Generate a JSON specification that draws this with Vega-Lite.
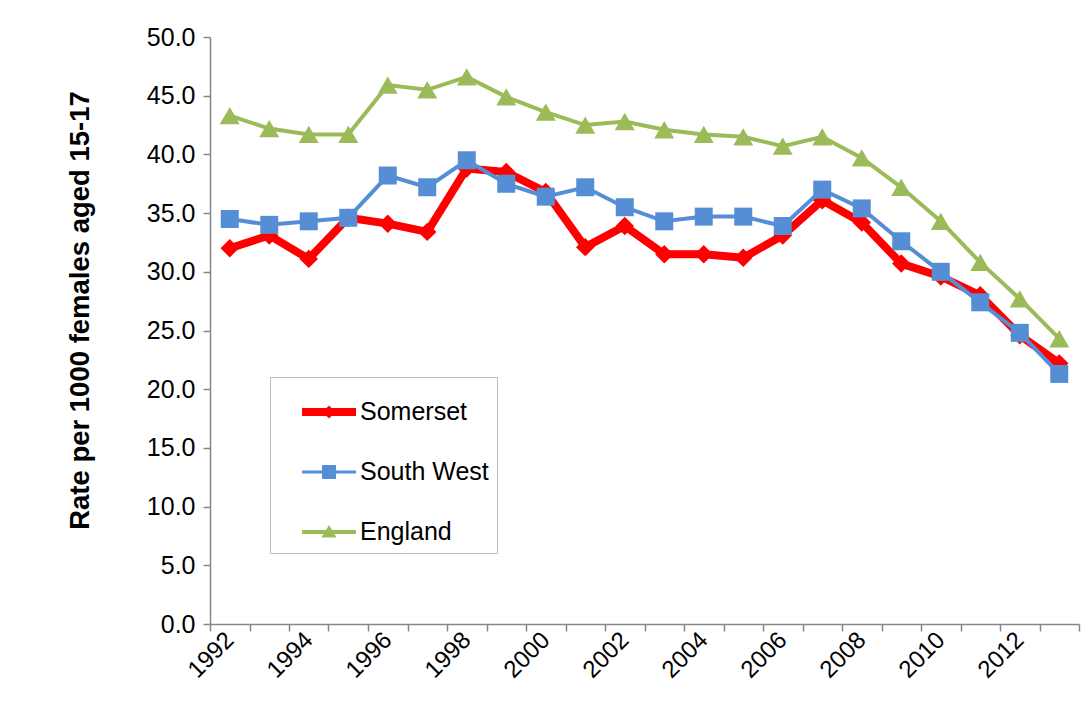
{
  "$schema": "https://vega.github.io/schema/vega-lite/v6.json",
  "width": 869,
  "height": 587,
  "autosize": {"type": "none"},
  "padding": {"left": 210, "top": 37, "right": 10, "bottom": 95},
  "background": "white",
  "config": {"view": {"stroke": null}, "font": "Liberation Sans", "axis": {"grid": false}},
  "data": {"values": [
    {"year": 1992, "series": "Somerset", "value": 32.0},
    {"year": 1993, "series": "Somerset", "value": 33.1},
    {"year": 1994, "series": "Somerset", "value": 31.1},
    {"year": 1995, "series": "Somerset", "value": 34.6},
    {"year": 1996, "series": "Somerset", "value": 34.1},
    {"year": 1997, "series": "Somerset", "value": 33.4},
    {"year": 1998, "series": "Somerset", "value": 38.8},
    {"year": 1999, "series": "Somerset", "value": 38.5},
    {"year": 2000, "series": "Somerset", "value": 36.8},
    {"year": 2001, "series": "Somerset", "value": 32.1},
    {"year": 2002, "series": "Somerset", "value": 33.9},
    {"year": 2003, "series": "Somerset", "value": 31.5},
    {"year": 2004, "series": "Somerset", "value": 31.5},
    {"year": 2005, "series": "Somerset", "value": 31.2},
    {"year": 2006, "series": "Somerset", "value": 33.1},
    {"year": 2007, "series": "Somerset", "value": 36.1},
    {"year": 2008, "series": "Somerset", "value": 34.2},
    {"year": 2009, "series": "Somerset", "value": 30.7},
    {"year": 2010, "series": "Somerset", "value": 29.6},
    {"year": 2011, "series": "Somerset", "value": 28.0},
    {"year": 2012, "series": "Somerset", "value": 24.6},
    {"year": 2013, "series": "Somerset", "value": 22.2},
    {"year": 1992, "series": "South West", "value": 34.5},
    {"year": 1993, "series": "South West", "value": 34.0},
    {"year": 1994, "series": "South West", "value": 34.3},
    {"year": 1995, "series": "South West", "value": 34.6},
    {"year": 1996, "series": "South West", "value": 38.2},
    {"year": 1997, "series": "South West", "value": 37.2},
    {"year": 1998, "series": "South West", "value": 39.5},
    {"year": 1999, "series": "South West", "value": 37.5},
    {"year": 2000, "series": "South West", "value": 36.4},
    {"year": 2001, "series": "South West", "value": 37.2},
    {"year": 2002, "series": "South West", "value": 35.5},
    {"year": 2003, "series": "South West", "value": 34.3},
    {"year": 2004, "series": "South West", "value": 34.7},
    {"year": 2005, "series": "South West", "value": 34.7},
    {"year": 2006, "series": "South West", "value": 33.9},
    {"year": 2007, "series": "South West", "value": 37.0},
    {"year": 2008, "series": "South West", "value": 35.4},
    {"year": 2009, "series": "South West", "value": 32.6},
    {"year": 2010, "series": "South West", "value": 30.0},
    {"year": 2011, "series": "South West", "value": 27.4},
    {"year": 2012, "series": "South West", "value": 24.8},
    {"year": 2013, "series": "South West", "value": 21.3},
    {"year": 1992, "series": "England", "value": 43.3},
    {"year": 1993, "series": "England", "value": 42.2},
    {"year": 1994, "series": "England", "value": 41.7},
    {"year": 1995, "series": "England", "value": 41.7},
    {"year": 1996, "series": "England", "value": 45.9},
    {"year": 1997, "series": "England", "value": 45.5},
    {"year": 1998, "series": "England", "value": 46.6},
    {"year": 1999, "series": "England", "value": 44.9},
    {"year": 2000, "series": "England", "value": 43.6},
    {"year": 2001, "series": "England", "value": 42.5},
    {"year": 2002, "series": "England", "value": 42.8},
    {"year": 2003, "series": "England", "value": 42.1},
    {"year": 2004, "series": "England", "value": 41.7},
    {"year": 2005, "series": "England", "value": 41.5},
    {"year": 2006, "series": "England", "value": 40.7},
    {"year": 2007, "series": "England", "value": 41.5},
    {"year": 2008, "series": "England", "value": 39.7},
    {"year": 2009, "series": "England", "value": 37.2},
    {"year": 2010, "series": "England", "value": 34.3},
    {"year": 2011, "series": "England", "value": 30.8},
    {"year": 2012, "series": "England", "value": 27.7},
    {"year": 2013, "series": "England", "value": 24.3}
  ]},
  "encoding": {
    "x": {"field": "year", "type": "quantitative", "scale": {"domain": [1991.5, 2013.5], "nice": false, "zero": false}, "axis": null},
    "y": {"field": "value", "type": "quantitative", "scale": {"domain": [0, 50], "nice": false, "zero": true}, "axis": {"values": [0, 5, 10, 15, 20, 25, 30, 35, 40, 45, 50], "format": ".1f", "tickSize": 7, "tickColor": "#868686", "domainColor": "#868686", "domainWidth": 1.5, "tickWidth": 1.5, "labelFontSize": 25, "labelColor": "#000000", "labelPadding": 8, "labelFont": "Liberation Sans", "title": "Rate per 1000 females aged 15-17", "titleFont": "Liberation Sans", "titleFontSize": 27.5, "titleFontWeight": "bold", "titleColor": "#000000", "titlePadding": 52, "titleY": 273}},
    "color": {"field": "series", "type": "nominal", "scale": {"domain": ["Somerset", "South West", "England"], "range": ["#FF0000", "#558ED5", "#9BBB59"]}, "legend": null}
  },
  "layer": [
    {
      "transform": [{"filter": "datum.series === 'Somerset'"}],
      "mark": {"type": "line", "strokeWidth": 8, "strokeJoin": "round", "strokeCap": "round"},
      "encoding": {
        "x": {"field": "year", "type": "quantitative", "axis": {"orient": "bottom", "values": [1991.5, 1992.5, 1993.5, 1994.5, 1995.5, 1996.5, 1997.5, 1998.5, 1999.5, 2000.5, 2001.5, 2002.5, 2003.5, 2004.5, 2005.5, 2006.5, 2007.5, 2008.5, 2009.5, 2010.5, 2011.5, 2012.5, 2013.5], "labels": false, "ticks": true, "tickSize": 7, "tickColor": "#868686", "domainColor": "#868686", "domainWidth": 1.5, "tickWidth": 1.5, "title": null}}
      }
    },
    {
      "transform": [{"filter": "datum.series === 'Somerset'"}],
      "mark": {"type": "point", "filled": true, "opacity": 1, "shape": "diamond", "size": 340}
    },
    {
      "transform": [{"filter": "datum.series === 'South West'"}],
      "mark": {"type": "line", "strokeWidth": 4}
    },
    {
      "transform": [{"filter": "datum.series === 'South West'"}],
      "mark": {"type": "point", "filled": true, "opacity": 1, "shape": "square", "size": 324}
    },
    {
      "transform": [{"filter": "datum.series === 'England'"}],
      "mark": {"type": "line", "strokeWidth": 4}
    },
    {
      "transform": [{"filter": "datum.series === 'England'"}],
      "mark": {"type": "point", "filled": true, "opacity": 1, "shape": "triangle-up", "size": 400}
    },
    {
      "transform": [{"filter": "datum.value < 0"}],
      "mark": {"type": "point", "filled": true, "opacity": 1},
      "encoding": {
        "x": {"field": "year", "type": "quantitative", "axis": {"orient": "bottom", "values": [1992, 1994, 1996, 1998, 2000, 2002, 2004, 2006, 2008, 2010, 2012], "format": "d", "ticks": false, "domain": false, "labelAngle": -45, "labelAlign": "right", "labelBaseline": "middle", "labelPadding": 12, "labelFontSize": 24, "labelColor": "#000000", "labelFont": "Liberation Sans", "title": null}},
        "color": {"field": "series", "type": "nominal", "legend": {"orient": "none", "legendX": 60, "legendY": 340, "title": null, "padding": 8, "strokeColor": "#BFBFBF", "fillColor": "white", "symbolSize": 2916, "symbolStrokeWidth": 0, "labelFontSize": 25, "labelColor": "#000000", "labelFont": "Liberation Sans", "labelOffset": 28, "rowPadding": 20, "labelLimit": 400, "labelExpr": "datum.label + '\u00a0\u00a0\u00a0\u00a0'"}},
        "shape": {"field": "series", "type": "nominal", "scale": {"domain": ["Somerset", "South West", "England"], "range": ["M-0.11,-0.15L1.89,-0.15L1.89,0.15L-0.11,0.15Z M0.89,-0.24L1.13,0L0.89,0.24L0.65,0Z", "M-0.11,-0.06L1.89,-0.06L1.89,0.06L-0.11,0.06Z M0.63,-0.26L1.15,-0.26L1.15,0.26L0.63,0.26Z", "M-0.11,-0.07L1.89,-0.07L1.89,0.07L-0.11,0.07Z M0.89,-0.26L1.17,0.2L0.61,0.2Z"]}, "legend": {"orient": "none", "legendX": 60, "legendY": 340, "title": null, "padding": 8, "strokeColor": "#BFBFBF", "fillColor": "white", "symbolSize": 2916, "symbolStrokeWidth": 0, "labelFontSize": 25, "labelColor": "#000000", "labelFont": "Liberation Sans", "labelOffset": 28, "rowPadding": 20, "labelLimit": 400, "labelExpr": "datum.label + '\u00a0\u00a0\u00a0\u00a0'"}}
      }
    }
  ],
  "resolve": {"axis": {"x": "independent"}, "legend": {"color": "independent", "shape": "independent"}}
}
